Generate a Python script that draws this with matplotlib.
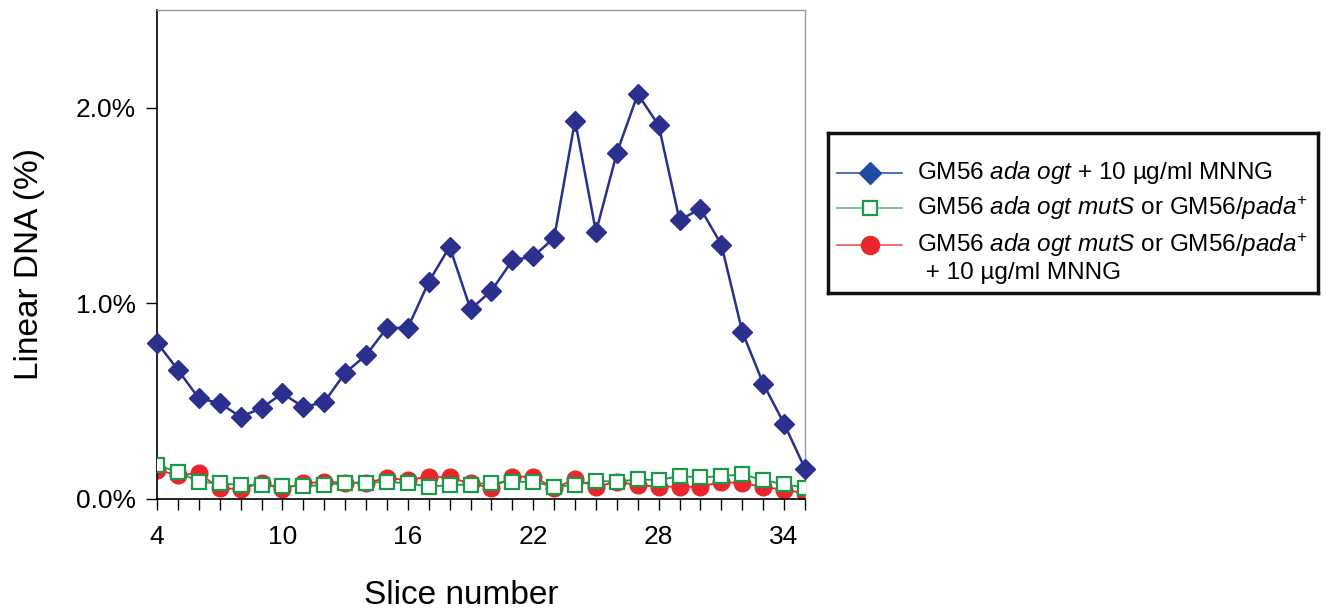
import matplotlib.pyplot as plt
from matplotlib.lines import Line2D

plt.rcParams['font.family'] = ['Liberation Sans', 'DejaVu Sans']
plt.rcParams['mathtext.fontset'] = 'custom'
plt.rcParams['mathtext.rm'] = 'Liberation Sans'
plt.rcParams['mathtext.it'] = 'Liberation Sans:italic'

# slice numbers and linear DNA (%)
slices = list(range(4, 36))
mnng = [0.80, 0.66, 0.515, 0.49, 0.42, 0.465, 0.54, 0.47, 0.495, 0.645,
        0.735, 0.875, 0.875, 1.11, 1.29, 0.97, 1.065, 1.22, 1.24, 1.335,
        1.935, 1.365, 1.77, 2.07, 1.91, 1.425, 1.485, 1.30, 0.855, 0.59,
        0.385, 0.155]
muts = [0.172, 0.139, 0.088, 0.080, 0.071, 0.071, 0.066, 0.066, 0.071, 0.083,
        0.083, 0.088, 0.080, 0.063, 0.071, 0.074, 0.083, 0.088, 0.088, 0.063,
        0.071, 0.093, 0.088, 0.100, 0.097, 0.117, 0.110, 0.117, 0.126, 0.097,
        0.075, 0.058]
muts_mnng = [0.148, 0.122, 0.131, 0.056, 0.050, 0.083, 0.050, 0.080, 0.088, 0.083,
             0.083, 0.107, 0.097, 0.114, 0.110, 0.080, 0.056, 0.114, 0.114, 0.056,
             0.100, 0.063, 0.088, 0.071, 0.063, 0.063, 0.063, 0.088, 0.080, 0.063,
             0.046, 0.032]

xtick_labels = [str(s) if (s - 4) % 6 == 0 else '' for s in slices]
ytick_vals = [0, 1, 2]
ytick_labels = ['0.0%', '1.0%', '2.0%']

labels = [
    r'GM56 $\mathit{ada\ ogt}$ + 10 µg/ml MNNG',
    r'GM56 $\mathit{ada\ ogt\ mutS}$ or GM56/$\mathit{pada}^{+}$',
    r'GM56 $\mathit{ada\ ogt\ mutS}$ or GM56/$\mathit{pada}^{+}$',
]

navy = '#2b2f8e'
green = '#1a9a48'
red = '#e8262b'

W, H = 1326, 616
fig = plt.figure(figsize=(W / 100, H / 100), dpi=100)
ax = fig.add_axes([157 / W, 1 - 499 / H, (805 - 157) / W, (499 - 10) / H])

ax.plot(slices, muts_mnng, color=red, lw=1.3, marker='o', ms=12,
        mfc=red, mec=red, zorder=2)
ax.plot(slices, muts, color=green, lw=1.3, marker='s', ms=10.5,
        mfc='white', mec=green, mew=1.6, zorder=3)
ax.plot(slices, mnng, color=navy, lw=1.8, marker='D', ms=10.5,
        mfc=navy, mec=navy, zorder=4, clip_on=False)

ax.set_xlim(4, 35)
ax.set_ylim(0, 2.5)
ax.set_xticks(slices)
ax.set_xticklabels(xtick_labels, fontsize=19)
ax.set_yticks(ytick_vals)
ax.set_yticklabels(ytick_labels, fontsize=19)
ax.tick_params(axis='x', direction='out', length=8, width=1, pad=11)
ax.tick_params(axis='y', direction='out', length=8, width=1, pad=7)

for side in ['top', 'right']:
    ax.spines[side].set_color('#999999')
    ax.spines[side].set_linewidth(1)
for side in ['left', 'bottom']:
    ax.spines[side].set_color('black')
    ax.spines[side].set_linewidth(1.2)

ax.set_xlabel('Slice number', fontsize=24, labelpad=22)
ax.set_ylabel('Linear DNA (%)', fontsize=24, labelpad=22)
ax.xaxis.label.set_x(0.469)
ax.yaxis.label.set_y(0.48)

# legend box drawn by hand so the handle lines up with the first text line
lx0, ly0, lx1, ly1 = 828, 133, 1318, 293
lax = fig.add_axes([lx0 / W, 1 - ly1 / H, (lx1 - lx0) / W, (ly1 - ly0) / H])
lax.set_xlim(0, lx1 - lx0)
lax.set_ylim(ly1 - ly0, 0)
lax.set_xticks([])
lax.set_yticks([])
for sp in lax.spines.values():
    sp.set_linewidth(2.5)
    sp.set_color('#111111')

handles = [
    dict(color='#2f56b0', marker='D', mfc='#1f4aa8', mec='#1f4aa8', ms=11, mew=1),
    dict(color='#5cc27a', marker='s', mfc='white', mec=green, ms=10, mew=1.6),
    dict(color='#e85a5a', marker='o', mfc=red, mec=red, ms=13, mew=1),
]
rows = [40, 75, 112]
for y, h, lab in zip(rows, handles, labels):
    lax.add_line(Line2D([9, 74], [y, y], lw=1.2, color=h['color']))
    lax.add_line(Line2D([42], [y], marker=h['marker'], ms=h['ms'],
                        mfc=h['mfc'], mec=h['mec'], mew=h['mew'], lw=0))
    lax.text(89, y, lab, fontsize=17.5, va='center', ha='left')
lax.text(91, 140, ' + 10 µg/ml MNNG', fontsize=17.5, va='center', ha='left')

fig.savefig('out.png', dpi=100)
